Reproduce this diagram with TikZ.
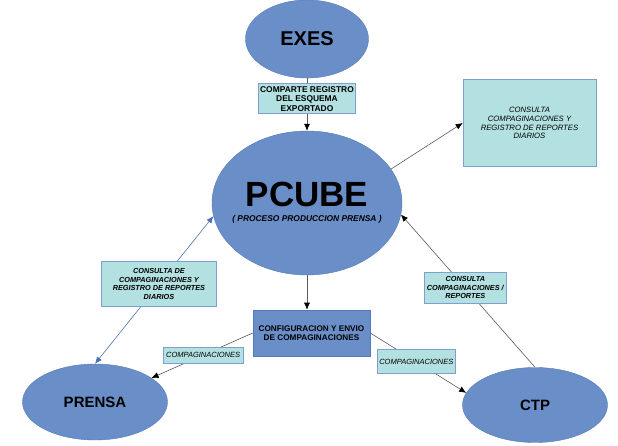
\documentclass[tikz,border=0pt]{standalone}
\usepackage{fontspec}
\setmainfont{Liberation Sans}
\usetikzlibrary{shapes.geometric,arrows.meta,positioning}
\definecolor{blobblue}{HTML}{6A8FC8}
\definecolor{blobedge}{HTML}{5479B4}
\definecolor{tagfill}{HTML}{B3E0E0}
\definecolor{tagedge}{HTML}{7F9FCF}
\definecolor{wiregrey}{HTML}{5A5A5A}
\definecolor{wireblue}{HTML}{4A6FB5}

\begin{document}
\begin{tikzpicture}[x=1pt, y=-1pt,
  blob/.style={ellipse, fill=blobblue, draw=blobedge, line width=0.4pt, inner sep=0pt},
  tag/.style={rectangle, fill=tagfill, draw=tagedge, line width=0.6pt, align=center, inner sep=1pt},
  wire/.style={draw=wiregrey, line width=0.6pt, -{Latex[length=7pt, width=6pt, color=black]}},
  bluewire/.style={draw=wireblue, line width=0.6pt, {Latex[length=7pt, width=6pt]}-{Latex[length=7pt, width=6pt]}},
  boldtag/.style={font=\fontsize{8.4}{9.6}\selectfont\bfseries},
  itag/.style={font=\fontsize{7.3}{8.5}\selectfont\bfseries\itshape},
  plaintag/.style={font=\fontsize{7.5}{8.6}\selectfont\itshape},
]
\useasboundingbox (0,0) rectangle (618,446);

\node[blob, minimum width=123pt, minimum height=78pt] (exes) at (307,39) {\fontsize{20}{24}\selectfont\bfseries EXES};
\node[blob, minimum width=190pt, minimum height=144pt, align=center] (pcube) at (307,203)
  {\fontsize{35}{38}\selectfont\bfseries PCUBE\\[3pt]
   \makebox[0pt]{\fontsize{8.4}{10}\selectfont\bfseries\itshape ( PROCESO PRODUCCION PRENSA )}};
\node[blob, minimum width=145pt, minimum height=76pt] (prensa) at (95,402) {\fontsize{15}{18}\selectfont\bfseries PRENSA};
\node[blob, minimum width=145pt, minimum height=75pt] (ctp) at (535,405) {\fontsize{15}{18}\selectfont\bfseries CTP};
\node[rectangle, fill=blobblue, draw=blobedge, line width=0.6pt, minimum width=117pt, minimum height=46pt,
  align=center, font=\fontsize{8.2}{9.4}\selectfont\bfseries] (envio) at (311.5,333)
  {CONFIGURACION Y ENVIO\\DE COMPAGINACIONES};
\node[tag, font=\fontsize{7.7}{8.8}\selectfont\itshape, minimum width=133pt, minimum height=87pt] (diarios) at (529.5,123)
  {CONSULTA\\COMPAGINACIONES Y\\REGISTRO DE REPORTES\\DIARIOS};

\draw[wire] (exes.south) -- node[tag, boldtag, pos=0.39, minimum width=97pt, minimum height=30pt]
  {COMPARTE REGISTRO\\DEL ESQUEMA\\EXPORTADO} (pcube.north);
\draw[wire] (pcube.22) -- (diarios.west);
\draw[bluewire] (pcube.188) -- node[tag, itag, pos=0.46, minimum width=115pt, minimum height=45pt]
  {CONSULTA DE\\COMPAGINACIONES Y\\REGISTRO DE REPORTES\\DIARIOS} (prensa.north);
\draw[wire] (ctp.north) -- node[tag, itag, pos=0.52, minimum width=82pt, minimum height=31pt]
  {CONSULTA\\COMPAGINACIONES /\\REPORTES} (pcube.-7);
\draw[wire] (pcube.south) -- (pcube.south |- envio.north);
\draw[wire] (envio.west) -- node[tag, plaintag, pos=0.49, minimum width=80pt, minimum height=16pt]
  {COMPAGINACIONES} (prensa.23);
\draw[wire] (envio.east) -- node[tag, plaintag, pos=0.48, minimum width=78pt, minimum height=24pt]
  {COMPAGINACIONES} (ctp.170);
\end{tikzpicture}
\end{document}
